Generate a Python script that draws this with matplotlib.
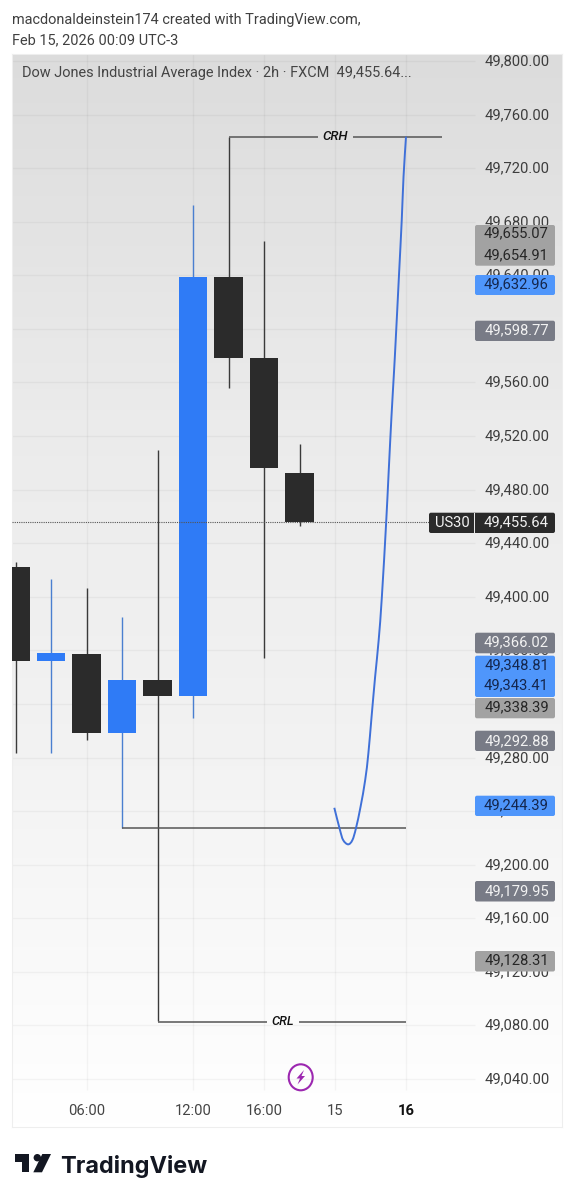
import numpy as np
import matplotlib
matplotlib.use("Agg")
import matplotlib.pyplot as plt
from matplotlib.colors import LinearSegmentedColormap
from matplotlib.patches import FancyBboxPatch, Rectangle, Polygon, Ellipse, PathPatch
from matplotlib.path import Path
from matplotlib.transforms import ScaledTranslation

plt.rcParams['font.family'] = ['Roboto', 'DejaVu Sans']

# candles
opens  = [49422.0, 49352.0, 49357.0, 49298.0, 49338.0, 49326.0, 49638.7, 49578.3, 49492.4]
closes = [49352.0, 49358.3, 49298.0, 49338.0, 49326.0, 49638.7, 49578.3, 49496.1, 49455.6]
highs  = [49426.0, 49413.0, 49406.8, 49385.0, 49509.6, 49692.5, 49743.3, 49665.6, 49514.0]
lows   = [49283.4, 49283.4, 49293.0, 49227.4, 49083.3, 49309.5, 49555.9, 49354.3, 49452.8]

# blue drawn curve: bar position, price
curve_x = [8.98, 9.14, 9.23, 9.37, 9.49, 9.59, 9.72, 9.85, 9.94, 10.03, 10.13,
           10.23, 10.32, 10.44, 10.51, 10.59, 10.66, 10.71, 10.80, 10.88, 10.93, 11.0]
curve_p = [49242.5, 49225.9, 49218.4, 49215.2, 49218.4, 49227.2, 49243.3, 49263.2,
           49283.2, 49310.5, 49340.3, 49367.7, 49400.0, 49455.1, 49492.4, 49534.4,
           49567.0, 49591.7, 49639.0, 49681.3, 49713.6, 49743.5]

crh_price = 49743.3
crl_price = 49082.8
mid_price = 49227.4
last_price = 49455.64

price_ticks = list(range(49040, 49801, 40))
time_ticks = [2, 5, 7, 9, 11]
time_labels = ["06:00", "12:00", "16:00", "15", "16"]

badge_values = [49655.07, 49654.91, 49632.96, 49598.77, 49366.02, 49348.81,
                49343.41, 49338.39, 49292.88, 49244.39, 49179.95, 49128.31]
badge_kinds = ["gray", "gray", "blue", "slate", "slate", "blue",
               "blue", "gray", "slate", "blue", "slate", "gray"]
# labels get stacked by the app so they don't sit exactly on their price
badge_text_y = [233.3, 255, 284, 330.5, 642, 665, 685.7, 707, 741, 805, 891.5, 960]
badge_boxes = [(225, 265.7, "gray"), (275, 295, "blue"), (320.7, 341, "slate"),
               (632.7, 653.3, "slate"), (655.7, 697, "blue"), (698, 718.3, "gray"),
               (730.7, 751, "slate"), (795.7, 816, "blue"), (881, 901.5, "slate"),
               (951, 971.5, "gray")]

BLUE = "#2f7bf6"
DARK = "#2b2b2b"
LINE = "#555555"
badge_fill = {"gray": "#a2a2a2", "blue": "#4f96fb", "slate": "#787b86"}
badge_text = {"gray": "#262626", "blue": "#14264d", "slate": "#f2f2f2"}

W, H = 574, 1200
fig = plt.figure(figsize=(W / 100, H / 100), dpi=100, facecolor="white")

# price pane, pixels 12-562 across and 53.5-1127 down
ax = fig.add_axes([12 / W, 1 - 1127 / H, 550 / W, 1073.5 / H])
xlim = (-0.0986, 15.394)
ylim = (49004.2, 49805.6)

grad = np.linspace(0, 1, 256).reshape(-1, 1)
cmap = LinearSegmentedColormap.from_list("bg", ["#dcdcdc", "#ebebeb", "#f3f3f3", "#ffffff"])
ax.imshow(grad, cmap=cmap, aspect="auto", extent=[0, 1, 0, 1], transform=ax.transAxes, zorder=0)
ax.set_xlim(xlim)
ax.set_ylim(ylim)

ax.hlines(price_ticks, xlim[0], 12.94, color="#000000", alpha=0.04, lw=1, zorder=1)
ax.vlines(time_ticks, 49031.8, ylim[1], color="#000000", alpha=0.04, lw=1, zorder=1)

# wicks then bodies
for i in range(len(opens)):
    col = BLUE if closes[i] >= opens[i] else DARK
    wick = "#4a7fd0" if col == BLUE else "#3a3a3a"
    ax.vlines(i, lows[i], highs[i], color=wick, lw=1.0, zorder=2)
for i in range(len(opens)):
    col = BLUE if closes[i] >= opens[i] else DARK
    ax.bar(i, abs(closes[i] - opens[i]), bottom=min(opens[i], closes[i]), width=0.79,
           color=col, zorder=3)

# CRH / CRL / mid lines
ax.hlines(crh_price, 6, 8.52, color=LINE, lw=1.1, zorder=4)
ax.hlines(crh_price, 9.51, 12, color=LINE, lw=1.1, zorder=4)
ax.hlines(mid_price, 3, 11, color=LINE, lw=1.1, zorder=4)
ax.hlines(crl_price, 4, 7.08, color=LINE, lw=1.1, zorder=4)
ax.hlines(crl_price, 7.99, 11, color=LINE, lw=1.1, zorder=4)
ax.text(9, crh_price, "CRH", style="italic", fontweight="medium", fontsize=9.5, color="#111111",
        ha="center", va="center", zorder=5)
ax.text(7.53, crl_price, "CRL", style="italic", fontweight="medium", fontsize=9.2, color="#111111",
        ha="center", va="center", zorder=5)

# curve goes through the read points with catmull-rom handles so it isn't kinked
pts = list(zip(curve_x, curve_p))
verts = [pts[0]]
codes = [Path.MOVETO]
for i in range(len(pts) - 1):
    p0 = pts[max(i - 1, 0)]
    p1 = pts[i]
    p2 = pts[i + 1]
    p3 = pts[min(i + 2, len(pts) - 1)]
    c1 = (p1[0] + (p2[0] - p0[0]) / 6, p1[1] + (p2[1] - p0[1]) / 6)
    c2 = (p2[0] - (p3[0] - p1[0]) / 6, p2[1] - (p3[1] - p1[1]) / 6)
    verts += [c1, c2, p2]
    codes += [Path.CURVE4, Path.CURVE4, Path.CURVE4]
ax.add_patch(PathPatch(Path(verts, codes), fc="none", ec="#3f70d8", lw=1.4, zorder=5))

ax.hlines(last_price, xlim[0], 11.65, color="#555555", lw=0.8, linestyles=(0, (1, 1)), zorder=4)

# real axis labels, pulled inside the pane
ax.yaxis.tick_right()
ax.set_yticks(price_ticks)
ax.set_yticklabels([f"{p:,.2f}" for p in price_ticks])
ax.tick_params(axis="y", length=0, pad=-55.9, labelsize=10.6, labelcolor="#3d3d3d")
ax.set_xticks(time_ticks)
ax.set_xticklabels(time_labels)
ax.tick_params(axis="x", length=0, pad=-16.5, labelsize=10.6, labelcolor="#444444")
lab = ax.get_xticklabels()[-1]
lab.set_fontweight("bold")
lab.set_color("#111111")
up = ScaledTranslation(0, 1.2 / 100, fig.dpi_scale_trans)
for t in ax.get_yticklabels():
    t.set_transform(t.get_transform() + up)
for s in ax.spines.values():
    s.set_color("#eeeeee")
    s.set_linewidth(0.8)

# overlay in pixels for badges, header and logo
ov = fig.add_axes([0, 0, 1, 1], facecolor="none")
ov.set_xlim(0, W)
ov.set_ylim(H, 0)
ov.axis("off")

ov.text(12.5, 20, "macdonaldeinstein174 created with TradingView.com,", fontsize=10.42,
        color="#404040", va="center")
ov.text(12.5, 40, "Feb 15, 2026 00:09 UTC-3", fontsize=10.42, color="#404040", va="center")
ov.text(22, 72.5, "Dow Jones Industrial Average Index · 2h · FXCM  49,455.64...", fontsize=10.45,
        color="#444444", va="center")

for top, bottom, kind in badge_boxes:
    ov.add_patch(FancyBboxPatch((475, top), 80, bottom - top, boxstyle="round,pad=0,rounding_size=2",
                                fc=badge_fill[kind], ec="none"))
for val, kind, y in zip(badge_values, badge_kinds, badge_text_y):
    ov.text(516.5, y, f"{val:,.2f}", fontsize=10.6, color=badge_text[kind], ha="center", va="center")

# last price tag
ov.add_patch(FancyBboxPatch((429, 512.7), 126, 20.3, boxstyle="round,pad=0,rounding_size=2",
                            fc="#2a2a2a", ec="none"))
ov.add_patch(Rectangle((474, 512.7), 0.9, 20.3, fc="#e8e8e8", ec="none"))
ov.text(452, 523, "US30", fontsize=10.6, color="#f2f2f2", ha="center", va="center")
ov.text(516.5, 522.5, f"{last_price:,.2f}", fontsize=10.6, color="#f2f2f2", ha="center", va="center")

# lightning icon
ov.add_patch(Ellipse((300.7, 1077.3), 24, 26, fc="none", ec="#9c27b0", lw=1.5))
ov.add_patch(Polygon([(304, 1070), (296.5, 1078.5), (300, 1078.5), (297.5, 1084.5),
                      (305, 1076), (301.5, 1076)], fc="#9c27b0", ec="none"))

# logo
LOGO = "#131722"
ov.add_patch(Polygon([(15, 1154), (29.3, 1154), (29.3, 1172.3), (22.3, 1172.3),
                      (22.3, 1161.7), (15, 1161.7)], fc=LOGO, ec="none"))
ov.add_patch(Ellipse((37.3, 1157.7), 7.4, 7.4, fc=LOGO, ec="none"))
ov.add_patch(Polygon([(42.3, 1154), (51, 1154), (42, 1172.3), (33.3, 1172.3)], fc=LOGO, ec="none"))
ov.text(60, 1173, "TradingView", fontsize=16.9, fontweight="bold", family=["Inter", "DejaVu Sans"],
        color=LOGO, va="baseline")

fig.savefig("out.png", dpi=100)
